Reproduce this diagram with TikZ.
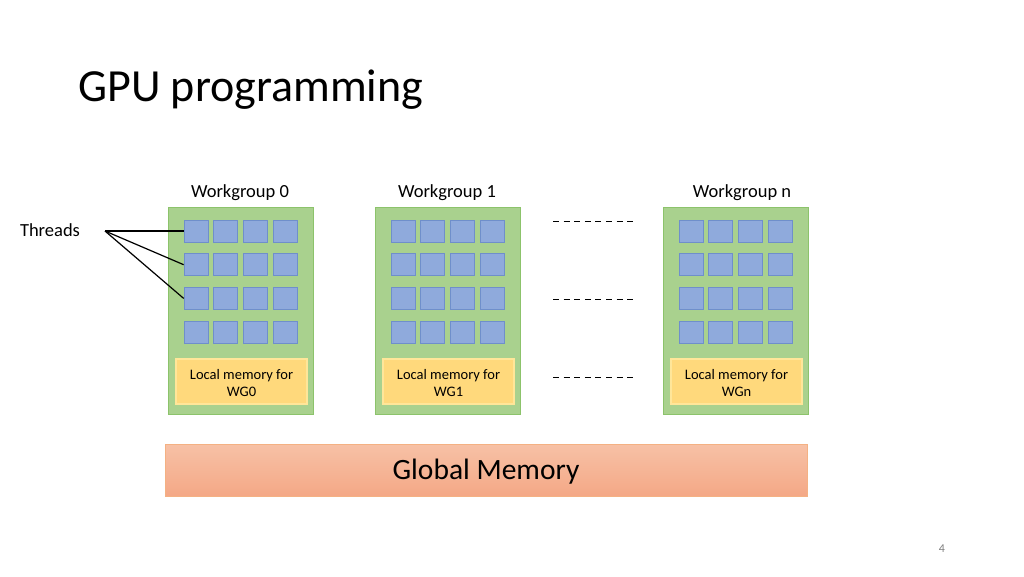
\documentclass[tikz,border=0pt]{standalone}
\usepackage{fontspec}
\setmainfont{Carlito}
\definecolor{wgfill}{HTML}{A9D18E}
\definecolor{wgline}{HTML}{8CC36B}
\definecolor{thfill}{HTML}{8FAADC}
\definecolor{thline}{HTML}{6F8FCB}
\definecolor{lmfill}{HTML}{FFD97C}
\definecolor{lmline}{HTML}{FFE699}
\definecolor{gmtop}{HTML}{F7C1A6}
\definecolor{gmbot}{HTML}{F4A886}
\definecolor{gmline}{HTML}{F4B183}
\begin{document}
\begin{tikzpicture}[x=1pt,y=-1pt,
  wgbox/.style={draw=wgline, fill=wgfill, line width=1pt, minimum width=145pt, minimum height=207pt, inner sep=0pt},
  thread/.style={draw=thline, fill=thfill, line width=0.7pt, minimum width=24pt, minimum height=22pt, inner sep=0pt},
  localmem/.style={draw=lmline, fill=lmfill, line width=1.2pt, minimum width=131pt, minimum height=45pt, inner sep=0pt, align=center, font=\fontsize{14.5}{17.5}\selectfont},
  wglabel/.style={font=\fontsize{18.5}{22}\selectfont, inner sep=0pt, anchor=base},
  globalmem/.style={draw=gmline, line width=1pt, top color=gmtop, bottom color=gmbot, minimum width=642pt, minimum height=52pt, inner sep=0pt},
  dots/.style={line width=1pt, dash pattern=on 6pt off 4.6pt},
  pointer/.style={line width=1.2pt, black}
]
\useasboundingbox (0,0) rectangle (1024,576);
\fill[white] (0,0) rectangle (1024,576);

\node[anchor=base west, inner sep=0pt, font=\fontsize{46}{50}\selectfont] (title) at (78,101) {GPU programming};

\foreach \g/\lx/\lbl/\lcx in {0/168/0/240, 1/375/1/447, n/663/n/742} {
  \node[wgbox] (wg\g) at (\lx+72.5, 310.5) {};
  \node[wglabel] (lab\g) at (\lcx, 197) {Workgroup \lbl};
  \foreach \r in {1,...,4} {
    \foreach \c in {1,...,4} {
      \node[thread] (t\g-\r-\c) at ({\lx+28+29.7*(\c-1)}, {231+33.7*(\r-1)}) {};
    }
  }
  \node[localmem] (lm\g) at (\lx+73.5, 381.5) {};
  \node[align=center, font=\fontsize{14.5}{17.5}\selectfont, inner sep=0pt] (lmt\g) at (\lx+73.5, 383) {Local memory for\\WG\lbl};
}

\node[font=\fontsize{18.5}{22}\selectfont, inner sep=0pt, anchor=base] (threads) at (50,236.5) {Threads};
\coordinate (hub) at (105,231);
\draw[pointer] (hub) -- (t0-1-1.west);
\draw[pointer] (hub) -- (t0-2-1.west);
\draw[pointer] (hub) -- (t0-3-1.west);

\draw[dots] (553,221) -- (637,221);
\draw[dots] (553,299) -- (637,299);
\draw[dots] (553,377) -- (637,377);

\node[globalmem] (gm) at (486,470) {};
\node[font=\fontsize{29.5}{34}\selectfont, inner sep=0pt, anchor=base] (gmt) at (486,479.5) {Global Memory};

\node[font=\fontsize{12}{14}\selectfont, text=gray, inner sep=0pt] (page) at (942,549) {4};
\end{tikzpicture}
\end{document}
